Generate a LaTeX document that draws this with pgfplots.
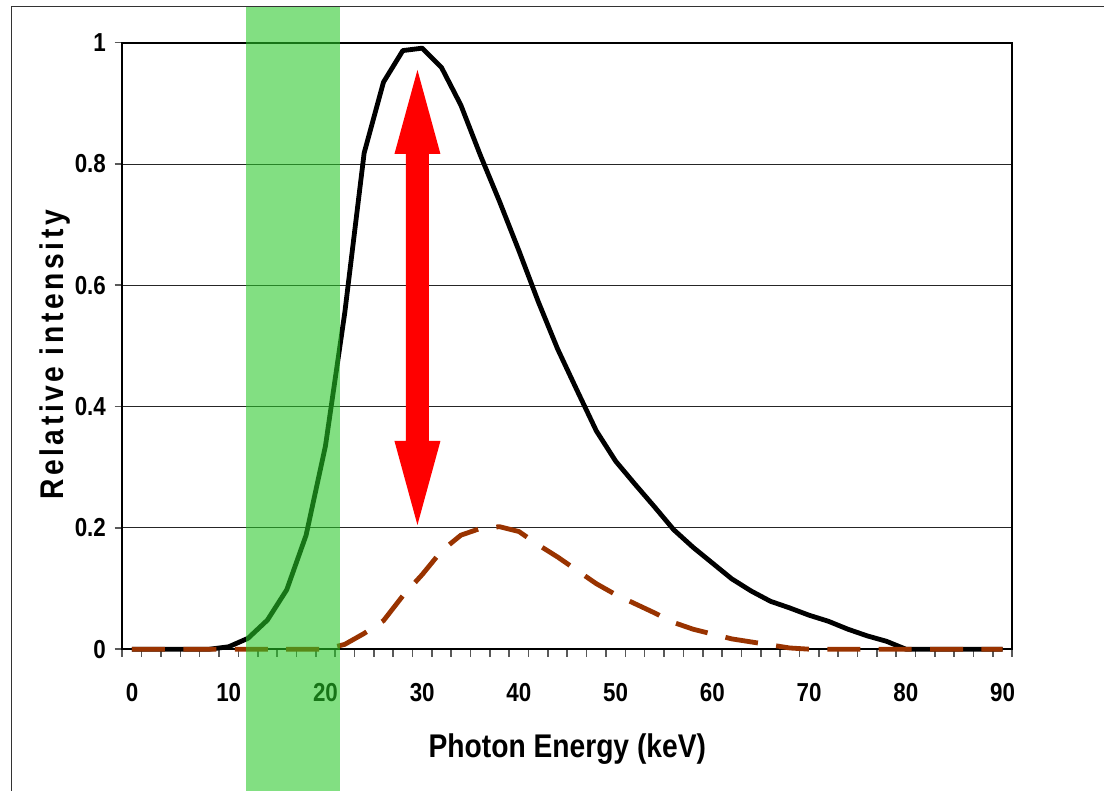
\documentclass[border=0pt]{standalone}
\usepackage{fontspec}
\setmainfont{Liberation Sans}[FakeStretch=0.86]
\usepackage{pgfplots}
\pgfplotsset{compat=1.18}

\definecolor{brownline}{RGB}{153,51,0}
\definecolor{bandgreen}{RGB}{40,200,40}

\begin{document}
\begin{tikzpicture}
% page size: 1 px of the reference = 0.5pt
\useasboundingbox (-61.15pt,-70.9pt) rectangle (490.85pt,324.6pt);
\begin{axis}[
    at={(0pt,0pt)}, anchor=south west,
    scale only axis,
    width=445pt, height=303.25pt,
    xmin=-1, xmax=91,
    ymin=0, ymax=1,
    clip=false,
    xtick={0,10,...,90},
    minor xtick={-1,1,...,91},
    ytick={0,0.2,0.4,0.6,0.8,1},
    minor ytick={0,0.2,0.4,0.6,0.8,1},
    xtick pos=bottom, ytick pos=left,
    major tick length=0pt,
    minor tick length=3.8pt,
    tick align=outside,
    tick style={black!65, line width=0.8pt},
    axis line style={black, line width=0.9pt},
    ymajorgrids=true,
    grid style={black!85, line width=0.45pt},
    /pgf/number format/assume math mode=true,
    tick label style={font=\fontsize{13}{15}\selectfont\bfseries},
    xticklabel style={anchor=north, inner sep=0pt, yshift=-17pt},
    yticklabel style={anchor=east, inner sep=0pt, xshift=-8pt},
    xlabel={Photon Energy (keV)},
    ylabel={Relative intensity},
    label style={font=\fontsize{16.4}{19}\selectfont\bfseries},
    xlabel style={at={(axis description cs:0.5,-0.165)}, anchor=center},
    ylabel style={at={(axis description cs:-0.0756,0.485)}, anchor=center,
        font=\fontsize{16.4}{19}\selectfont\bfseries\addfontfeatures{LetterSpace=11}},
]
% unfiltered spectrum
\addplot[black, line width=2.4pt, line join=round] coordinates {
    (0,0) (2,0) (4,0) (6,0) (8,0) (10,0.004) (12,0.018) (14,0.048)
    (16,0.098) (18,0.188) (20,0.335) (22,0.555) (24,0.818) (26,0.935)
    (28,0.987) (30,0.991) (32,0.959) (34,0.897) (36,0.815) (38,0.738)
    (40,0.657) (42,0.573) (44,0.495) (46,0.427) (48,0.360) (50,0.310)
    (52,0.272) (54,0.235) (56,0.197) (58,0.168) (60,0.142) (62,0.116)
    (64,0.096) (66,0.079) (68,0.068) (70,0.056) (72,0.046) (74,0.033)
    (76,0.022) (78,0.013) (80,0) (82,0) (84,0) (86,0) (88,0) (90,0)
};
% filtered spectrum
\addplot[brownline, line width=2.4pt, dash pattern=on 16.5pt off 9.2pt] coordinates {
    (0,0) (2,0) (4,0) (6,0) (8,0) (10,0) (12,0) (14,0) (16,0) (18,0)
    (20,0) (22,0.008) (24,0.026) (26,0.047) (28,0.088) (30,0.123)
    (32,0.162) (34,0.188) (36,0.199) (38,0.202) (40,0.194) (42,0.172)
    (44,0.152) (46,0.130) (48,0.108) (50,0.090) (52,0.075) (54,0.060)
    (56,0.044) (58,0.033) (60,0.025) (62,0.017) (64,0.012) (66,0.007)
    (68,0.002) (70,0) (72,0) (74,0) (76,0) (78,0) (80,0) (82,0) (84,0)
    (86,0) (88,0) (90,0)
};
\coordinate (bandA) at (axis cs:11.8,-0.26);
\coordinate (bandB) at (axis cs:21.5,1.0594);
\coordinate (arT) at (axis cs:29.51,0.955);
\coordinate (arB) at (axis cs:29.51,0.2048);
\end{axis}
% outer frame (cut at right and bottom)
\draw[black!80, line width=0.8pt] (-55.3pt,-80pt) -- (-55.3pt,321.25pt) -- (500pt,321.25pt);
% green band over everything
\fill[bandgreen, opacity=0.58] (bandA) rectangle (bandB);
% red double arrow
\fill[red] (arT) -- ([shift={(11.5pt,-42pt)}]arT) -- ([shift={(5.75pt,-42pt)}]arT)
    -- ([shift={(5.75pt,42pt)}]arB) -- ([shift={(11.5pt,42pt)}]arB) -- (arB)
    -- ([shift={(-11.5pt,42pt)}]arB) -- ([shift={(-5.75pt,42pt)}]arB)
    -- ([shift={(-5.75pt,-42pt)}]arT) -- ([shift={(-11.5pt,-42pt)}]arT) -- cycle;
\end{tikzpicture}
\end{document}
